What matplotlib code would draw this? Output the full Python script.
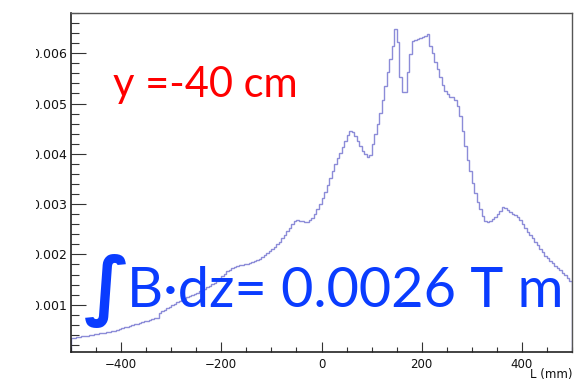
import numpy as np
import matplotlib
matplotlib.use("Agg")
import matplotlib.pyplot as plt
from matplotlib.ticker import MultipleLocator, FormatStrFormatter
from matplotlib.transforms import Bbox, TransformedBbox

# Histogram: integral of B along z vs L (mm), 5 mm bins from -500 to 500
x_min, x_max = -500.0, 500.0
values = [
    # -500 .. -410
    0.000340, 0.000348, 0.000356, 0.000364, 0.000372, 0.000380, 0.000388, 0.000396, 0.000404,
    0.000412, 0.000420, 0.000428, 0.000436, 0.000444, 0.000452, 0.000462, 0.000472, 0.000485,
    # -410 .. -325
    0.000505, 0.000520, 0.000535, 0.000550, 0.000565, 0.000580, 0.000595, 0.000610, 0.000625,
    0.000640, 0.000655, 0.000670, 0.000685, 0.000700, 0.000715, 0.000730, 0.000745,
    # -325 .. -290
    0.00084, 0.00087, 0.00090, 0.00093, 0.00096, 0.00099, 0.00102,
    # -290 .. -240
    0.00105, 0.00107, 0.00110, 0.00112, 0.00115, 0.00117, 0.00120, 0.00122, 0.00124, 0.00127,
    # -240 .. -180
    0.00129, 0.00132, 0.00135, 0.00138, 0.00141, 0.00144, 0.00148, 0.00152, 0.00157, 0.00162,
    0.00167, 0.00170,
    # -180 .. -130
    0.00173, 0.00175, 0.00176, 0.00178, 0.00179, 0.00180, 0.00181, 0.00182, 0.00184, 0.00186,
    # -130 .. -50
    0.00188, 0.00191, 0.00195, 0.00199, 0.00203, 0.00207, 0.00211, 0.00215, 0.00220, 0.00225,
    0.00232, 0.00239, 0.00246, 0.00253, 0.00260, 0.00266,
    # -50 .. -15
    0.00268, 0.00267, 0.00266, 0.00264, 0.00265, 0.00268, 0.00273,
    # -15 .. 60
    0.00281, 0.00290, 0.00300, 0.00312, 0.00325, 0.00339, 0.00352, 0.00366, 0.00379, 0.00391,
    0.00401, 0.00413, 0.00425, 0.00437, 0.00446,
    # 60 .. 100
    0.00444, 0.00435, 0.00425, 0.00415, 0.00406, 0.00399, 0.00394, 0.00398,
    # 100 .. 150
    0.00420, 0.00440, 0.00460, 0.00482, 0.00508, 0.00535, 0.00562, 0.00588, 0.00615, 0.00649,
    # 150 .. 220
    0.00622, 0.00552, 0.00523, 0.00523, 0.00562, 0.00598, 0.00624, 0.00626, 0.00628, 0.00630,
    0.00632, 0.00634, 0.00638, 0.00615,
    # 220 .. 270
    0.00600, 0.00583, 0.00568, 0.00553, 0.00537, 0.00525, 0.00518, 0.00513, 0.00512, 0.00508,
    # 270 .. 335
    0.00495, 0.00475, 0.00445, 0.00415, 0.00388, 0.00365, 0.00343, 0.00323, 0.00305, 0.00290,
    0.00276, 0.00266, 0.00264,
    # 335 .. 500
    0.00266, 0.00270, 0.00275, 0.00280, 0.00286, 0.00294, 0.00292, 0.00288, 0.00284, 0.00281,
    0.00278, 0.00274, 0.00268, 0.00260, 0.00252, 0.00245, 0.00238, 0.00232, 0.00225, 0.00218,
    0.00211, 0.00204, 0.00197, 0.00192, 0.00187, 0.00182, 0.00177, 0.00173, 0.00169, 0.00164,
    0.00159, 0.00153, 0.00147,
]
x_ticks = [-400, -200, 0, 200, 400]
y_ticks = [0.001, 0.002, 0.003, 0.004, 0.005, 0.006]
x_label = "L (mm)"
label_pos = "y =-40 cm"
label_int = "B·dz= 0.0026 T m"

vals = np.array(values)
edges = np.linspace(x_min, x_max, len(vals) + 1)

W, H = 577, 382
fig = plt.figure(figsize=(W / 100, H / 100), dpi=100)
ax = fig.add_axes([71 / W, 1 - 352 / H, (572 - 71) / W, (352 - 13) / H])

ax.stairs(vals, edges, color="#8c8cd8", lw=1.0)

ax.set_xlim(x_min, x_max)
ax.set_ylim(0.00006, 0.0068)

ax.set_xticks(x_ticks)
ax.xaxis.set_minor_locator(MultipleLocator(50))
ax.set_yticks(y_ticks)
ax.yaxis.set_minor_locator(MultipleLocator(0.0002))
ax.yaxis.set_major_formatter(FormatStrFormatter("%.3f"))

ax.tick_params(axis="x", which="major", direction="in", length=7.2, width=0.8, colors="#333333", pad=4)
ax.tick_params(axis="x", which="minor", direction="in", length=3.6, width=0.8, colors="#333333")
ax.tick_params(axis="y", which="major", direction="in", length=10.8, width=0.8, colors="#333333", pad=3)
ax.tick_params(axis="y", which="minor", direction="in", length=5.4, width=0.8, colors="#333333")
ax.tick_params(labelcolor="#111111")

clip = TransformedBbox(Bbox([[36 / W, 0], [1, 1]]), fig.transFigure)
for lab in ax.get_xticklabels():
    lab.set_fontfamily("DejaVu Sans")
    lab.set_fontsize(8.5)
for lab in ax.get_yticklabels():
    lab.set_fontfamily("DejaVu Sans")
    lab.set_fontsize(9)
    lab.set_clip_box(clip)
    lab.set_clip_on(True)

for s in ["left", "bottom"]:
    ax.spines[s].set_color("#222222")
    ax.spines[s].set_linewidth(1.2)
for s in ["top", "right"]:
    ax.spines[s].set_color("#555555")
    ax.spines[s].set_linewidth(1.0)

fig.text(572 / W, 1 - 381 / H, x_label, ha="right", va="bottom",
         family="DejaVu Sans", fontsize=8.5, color="#111111")

fig.text(113 / W, 1 - 97 / H, label_pos, ha="left", va="baseline",
         family="Lato", fontsize=30, color="#ff0000")

fig.text(84 / W, 1 - 311 / H, "∫", ha="left", va="baseline",
         family="DejaVu Sans", fontweight="bold", fontsize=55, color="#0a3cff")
fig.text(127 / W, 1 - 307 / H, label_int, ha="left", va="baseline",
         family="Lato", fontsize=40.2, color="#0a3cff")

fig.savefig("out.png", dpi=100)
